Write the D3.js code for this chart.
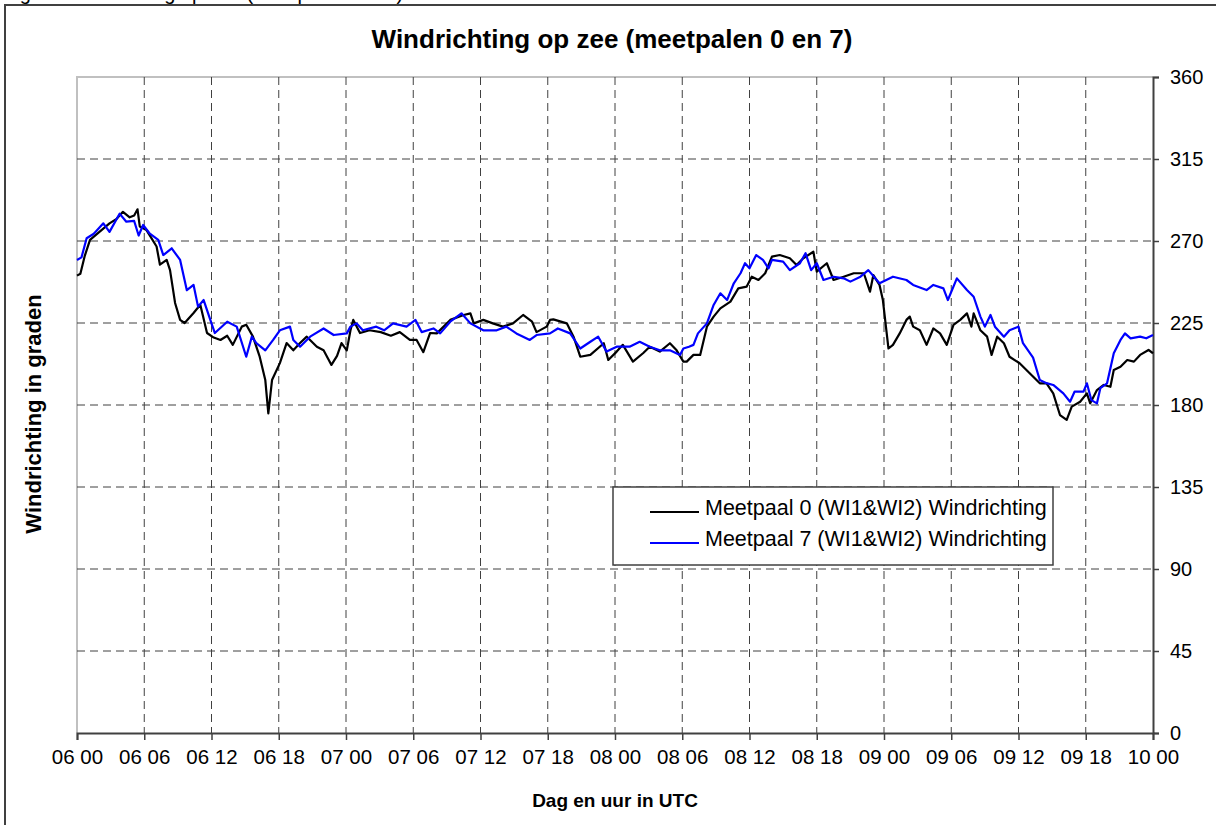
<!DOCTYPE html>
<html>
<head>
<meta charset="utf-8">
<script src="https://cdn.jsdelivr.net/npm/d3@7"></script>
<style>
  body { margin: 0; background: #fff; }
  svg text { font-family: "Liberation Sans", Arial, sans-serif; fill: #000; }
</style>
</head>
<body>
<div id="chart"></div>
<script>
// hours since 06 00 UTC, wind direction in degrees
const hoursPaal0 = [0, 0.3, 0.7, 1.16, 2, 2.9, 3.5, 4.1, 4.7, 5.1, 5.4, 5.6, 6.2, 6.6, 7.1, 7.4, 8, 8.3, 8.75, 9.2,
  9.6, 10.4, 11, 11.6, 12.2, 12.8, 13.4, 13.9, 14.7, 15.1, 15.7, 16.3, 16.8, 17.07, 17.4, 18.1, 18.7, 19.3, 19.9, 20.5,
  21.4, 22, 22.7, 23.2, 23.6, 24.07, 24.4, 24.65, 25.25, 26.1, 27.1, 28, 28.8, 29.7, 30.3, 30.9, 31.5, 32.1, 33.3, 34.5,
  35.1, 35.4, 36.25, 37.1, 38, 38.9, 39.8, 40.6, 41, 41.9, 42.2, 42.5, 43.7, 44.3, 44.9, 45.8, 47, 47.4, 48.15, 48.7,
  49.6, 50.5, 51.1, 52, 52.9, 53.5, 54.1, 54.4, 55, 55.6, 56.2, 56.8, 57.4, 58.3, 59, 59.75, 60.2, 60.8, 61.4, 62,
  62.7, 63.6, 64.2, 64.8, 65.7, 66, 66.9, 67.5, 68.4, 69.3, 70.2, 70.75, 71.05, 71.6, 71.9, 72.4, 72.8, 73.4, 74, 74.3,
  74.6, 75.2, 75.8, 76.4, 77, 77.6, 78.2, 78.8, 79.4, 79.8, 80, 80.6, 81.2, 81.6, 82.1, 82.7, 83.2, 84.1, 85, 85.9,
  86.5, 87.1, 87.7, 88.3, 88.75, 89.5, 90.1, 90.4, 91, 91.6, 92.2, 92.5, 93.1, 93.7, 94.3, 94.85, 95.6, 96]
const windPaal0 = [251, 252, 262, 270.6, 275, 279.7, 282, 286, 283, 284, 287.4, 278, 276, 272, 267, 257, 259.6, 254, 236, 226.7,
  225, 230.5, 235, 219.5, 217, 215.7, 218, 213, 223, 224, 217.5, 206.5, 193.7, 175.4, 193.7, 203, 214, 210, 214, 217.5,
  212, 210, 202, 207, 214, 210, 221, 226.7, 219.5, 221, 220, 218, 220, 215.7, 215.7, 209, 219.5, 219.3, 226.7, 229.4,
  230.3, 224.8, 226.7, 224.8, 223, 224.8, 229.4, 225.7, 220, 223, 226.7, 227, 224.8, 217.5, 206.5, 207.5, 213.9, 204.7, 209.3, 213,
  203.8, 208.4, 212, 209.3, 213.9, 210, 203.8, 203.8, 207.5, 207.5, 223, 228.5, 233, 236.7, 244, 245, 250.4, 248.6, 252.3, 261.4,
  262.3, 260.5, 256.8, 260.5, 264.1, 253.2, 257.8, 248.6, 250.4, 252.3, 252.3, 242.2, 251.3, 245.9, 237.6, 211, 213, 219.3, 226.7, 228.5,
  223, 221, 213, 222, 219.3, 213, 224, 226.7, 230.3, 223, 230.3, 221, 217.5, 207.5, 217.5, 213.9, 206.5, 202.9, 197.4, 191.9,
  191.9, 186.4, 174.5, 171.8, 179.1, 181.8, 186.4, 180.9, 188.2, 191, 190, 199.2, 201, 204.7, 203.8, 207.5, 210.2, 208.4]

const hoursPaal7 = [0, 0.4, 0.86, 1.5, 2.35, 2.9, 3.8, 4.4, 5.1, 5.5, 5.9, 6.5, 7.25, 7.7, 8.45, 9.2, 9.8, 10.4, 10.8, 11.3,
  12, 12.3, 13.4, 14.25, 15.1, 15.6, 16, 16.8, 17.5, 18.1, 19, 19.3, 19.9, 20.8, 22, 22.9, 24.07, 24.4, 24.95, 25.5,
  26.7, 27.4, 28.2, 29.4, 30.2, 30.75, 31.8, 32.4, 33.3, 34.3, 35.1, 36.25, 37.45, 38.3, 39.2, 40.4, 41, 42.2, 42.9, 44,
  44.9, 45.8, 46.5, 47.25, 48.15, 49.3, 50.2, 51.1, 52, 52.9, 53.8, 54.1, 54.6, 55, 55.4, 56.2, 56.8, 57.4, 58, 58.6,
  59.2, 59.6, 60, 60.6, 61.2, 61.7, 62, 63, 63.6, 64.5, 65, 65.5, 66, 66.6, 67.5, 68.4, 69, 69.9, 70.6, 71.6,
  72.8, 74, 74.6, 75.8, 76.4, 77.3, 77.7, 78.5, 79.4, 80, 80.6, 81, 81.5, 81.9, 82.7, 83.2, 84, 84.4, 85.3, 85.9,
  86.5, 87.1, 88, 88.6, 89, 89.8, 90.1, 90.5, 91, 91.3, 91.9, 92.5, 93.1, 93.5, 94, 94.85, 95.4, 96]
const windPaal7 = [259.6, 261, 271.5, 274, 279.7, 275, 285, 280.6, 281, 273, 278.8, 274, 270.6, 262.3, 266, 259.6, 243, 245.9, 234, 237.6,
  224.8, 219.5, 225.7, 223, 206.5, 217.5, 214, 210, 215.7, 221, 223, 215.7, 212, 217.5, 222, 218.4, 219.3, 223, 224.8, 221,
  223, 221, 224.8, 223, 226.7, 220, 222, 219.3, 225.7, 230.3, 224.8, 221, 221, 223, 219.3, 215.7, 218.4, 219.3, 222, 219.3,
  211, 214.7, 217.5, 209.3, 212, 212, 214.7, 212, 210, 210, 207.5, 211, 212, 213, 219.3, 224.8, 234.9, 241.3, 237.6, 246.8,
  252.3, 257.8, 255, 262.3, 259.6, 255, 259.6, 258.7, 254, 257.8, 263.3, 254, 257.8, 248.6, 250.4, 249.5, 247.7, 250.4, 254, 246.8,
  250.4, 248.6, 245.9, 243.1, 245.9, 244, 237.6, 249.5, 243.1, 239.4, 228.5, 223, 229.4, 223, 217.5, 221, 223, 213.9, 206, 193.7,
  192, 191, 186.4, 181.8, 187.3, 187.3, 191.9, 182.7, 180.9, 189.2, 191.9, 208.4, 215.7, 219.3, 216.6, 217.5, 216.6, 218.4]

const seriesNames = ["Meetpaal 0 (WI1&WI2) Windrichting", "Meetpaal 7 (WI1&WI2) Windrichting"]
const seriesColors = ["#000000", "#0000ff"]

const xTickHours = [0, 6, 12, 18, 24, 30, 36, 42, 48, 54, 60, 66, 72, 78, 84, 90, 96]
const xTickLabels = ["06 00", "06 06", "06 12", "06 18", "07 00", "07 06", "07 12", "07 18", "08 00",
  "08 06", "08 12", "08 18", "09 00", "09 06", "09 12", "09 18", "10 00"]
const yTickValues = [0, 45, 90, 135, 180, 225, 270, 315, 360]

const MARGIN = { TOP: 77, LEFT: 77 }
const WIDTH = 1076
const HEIGHT = 656

const root = d3.select("#chart")
  .append("svg")
  .attr("width", 1216)
  .attr("height", 825)

// outer chart frame, clipped at right and bottom
root.append("rect")
  .attr("x", 5).attr("y", 5)
  .attr("width", 1300).attr("height", 900)
  .attr("fill", "none")
  .attr("stroke", "#404040")
  .attr("stroke-width", 2)

// caption above the frame, mostly cut off like in the original
root.append("text")
  .attr("x", 3).attr("y", 0)
  .attr("font-size", 20)
  .text("Figuur Windrichting op zee (meetpaal 0 en 7)")

root.append("text")
  .attr("x", 612).attr("y", 48)
  .attr("text-anchor", "middle")
  .attr("font-size", 26)
  .attr("font-weight", "bold")
  .text("Windrichting op zee (meetpalen 0 en 7)")

const svg = root.append("g")
  .attr("transform", `translate(${MARGIN.LEFT}, ${MARGIN.TOP})`)

const x = d3.scaleLinear().domain([0, 96]).range([0, WIDTH])
const y = d3.scaleLinear().domain([0, 360]).range([HEIGHT, 0])

// plot area border (left and top are light grey)
svg.append("path")
  .attr("d", `M0,${HEIGHT}V0H${WIDTH}`)
  .attr("fill", "none")
  .attr("stroke", "#c0c0c0")
  .attr("stroke-width", 2)

// dashed grid
svg.append("g")
  .selectAll("line")
  .data(yTickValues.filter(v => v > 0 && v < 360))
  .join("line")
  .attr("x1", 0).attr("x2", WIDTH)
  .attr("y1", d => y(d)).attr("y2", d => y(d))
  .attr("stroke", "#404040")
  .attr("stroke-dasharray", "8,5")

svg.append("g")
  .selectAll("line")
  .data(xTickHours.filter(h => h > 0 && h < 96))
  .join("line")
  .attr("x1", d => x(d)).attr("x2", d => x(d))
  .attr("y1", 0).attr("y2", HEIGHT)
  .attr("stroke", "#404040")
  .attr("stroke-dasharray", "8,5")

// axes
const xAxis = d3.axisBottom(x)
  .tickValues(xTickHours)
  .tickSize(7)
  .tickPadding(9)
  .tickFormat((d, i) => xTickLabels[i])

const xAxisGroup = svg.append("g")
  .attr("transform", `translate(0, ${HEIGHT})`)
  .call(xAxis)
xAxisGroup.select(".domain").attr("stroke", "#404040").attr("stroke-width", 2)
xAxisGroup.selectAll(".tick line").attr("stroke", "#404040").attr("stroke-width", 1.5)
xAxisGroup.selectAll(".tick text")
  .attr("font-size", 20.5)
  .attr("font-family", "Liberation Sans, Arial, sans-serif")
  .attr("fill", "#000")

const yAxis = d3.axisRight(y)
  .tickValues(yTickValues)
  .tickSize(6)
  .tickPadding(11)

const yAxisGroup = svg.append("g")
  .attr("transform", `translate(${WIDTH}, 0)`)
  .call(yAxis)
yAxisGroup.select(".domain").attr("stroke", "#404040").attr("stroke-width", 2)
yAxisGroup.selectAll(".tick line").attr("stroke", "#404040").attr("stroke-width", 1.5)
yAxisGroup.selectAll(".tick text")
  .attr("font-size", 20)
  .attr("font-family", "Liberation Sans, Arial, sans-serif")
  .attr("fill", "#000")

// series
const line = d3.line().x(d => x(d[0])).y(d => y(d[1]))
const series = [
  d3.zip(hoursPaal0, windPaal0),
  d3.zip(hoursPaal7, windPaal7)
]

svg.append("g")
  .selectAll("path")
  .data(series)
  .join("path")
  .attr("d", line)
  .attr("fill", "none")
  .attr("stroke", (d, i) => seriesColors[i])
  .attr("stroke-width", 2.2)
  .attr("stroke-linejoin", "round")

// axis titles
root.append("text")
  .attr("x", 615).attr("y", 807)
  .attr("text-anchor", "middle")
  .attr("font-size", 19)
  .attr("font-weight", "bold")
  .text("Dag en uur in UTC")

root.append("text")
  .attr("transform", "translate(41, 414) rotate(-90)")
  .attr("text-anchor", "middle")
  .attr("font-size", 22)
  .attr("font-weight", "bold")
  .text("Windrichting in graden")

// legend
const legend = root.append("g").attr("transform", "translate(613, 487)")
legend.append("rect")
  .attr("width", 440).attr("height", 78)
  .attr("fill", "#fff")
  .attr("stroke", "#404040")
  .attr("stroke-width", 1.5)

const legendItems = legend.selectAll("g.item")
  .data(seriesNames)
  .join("g")
  .attr("class", "item")
  .attr("transform", (d, i) => `translate(0, ${25 + i * 31})`)

legendItems.append("line")
  .attr("x1", 37).attr("x2", 86)
  .attr("stroke", (d, i) => seriesColors[i])
  .attr("stroke-width", 2.2)

legendItems.append("text")
  .attr("x", 92).attr("y", 3)
  .attr("font-size", 21.5)
  .text(d => d)
</script>
</body>
</html>
